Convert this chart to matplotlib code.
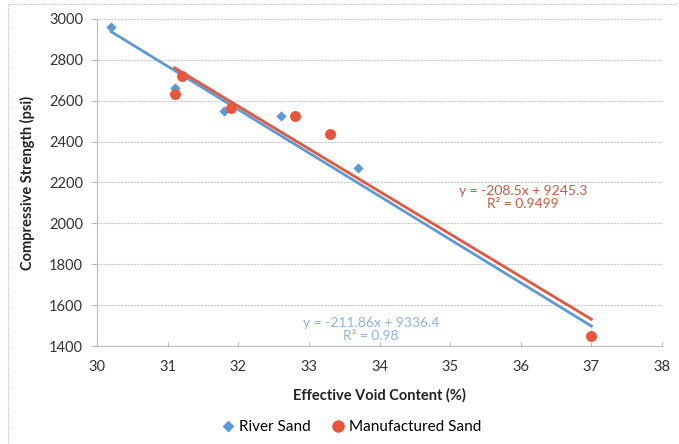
import matplotlib
matplotlib.use("Agg")
import matplotlib.pyplot as plt
from matplotlib.patches import Rectangle
from matplotlib.lines import Line2D
import numpy as np

plt.rcParams['font.family'] = ['Lato', 'DejaVu Sans']

river_x = [30.2, 31.1, 31.8, 32.6, 33.7, 37.0]
river_y = [2960, 2660, 2550, 2525, 2270, 1450]
manu_x = [31.1, 31.2, 31.9, 32.8, 33.3, 37.0]
manu_y = [2635, 2720, 2565, 2525, 2435, 1450]

river_fit = (-211.86, 9336.4, 0.98)
manu_fit = (-208.5, 9245.3, 0.9499)

x_ticks = [30, 31, 32, 33, 34, 35, 36, 37, 38]
y_ticks = [1400, 1600, 1800, 2000, 2200, 2400, 2600, 2800, 3000]

blue = '#5B9BD5'
red = '#E8553A'
blue_txt = '#8DB3E2'
red_txt = '#C65A3C'

fig = plt.figure(figsize=(6.79, 4.44), dpi=100)
# outer chart border
fig.add_artist(Rectangle((8/679, -0.05), 1.2, 1.05 - 4/444, transform=fig.transFigure,
                         fill=False, edgecolor='#BBBBBB', linewidth=0.8, linestyle=(0, (1, 1))))

ax = fig.add_axes([97/679, 1-346/444, (662-97)/679, (346-19)/444])
ax.set_xlim(30, 38)
ax.set_ylim(1400, 3000)
ax.set_xticks(x_ticks)
ax.set_yticks(y_ticks)

for s in ['top', 'right']:
    ax.spines[s].set_visible(False)
for s in ['left', 'bottom']:
    ax.spines[s].set_color('#BBBBBB')
    ax.spines[s].set_linestyle((0, (2, 1)))
    ax.spines[s].set_linewidth(0.8)

ax.yaxis.grid(True, color='#C8C8C8', linestyle=(0, (2, 1)), linewidth=0.8)
ax.set_axisbelow(True)
ax.tick_params(axis='both', colors='#BBBBBB', labelcolor='#333333', labelsize=10.5, length=3)
ax.tick_params(axis='x', direction='in', pad=10)
ax.tick_params(axis='y', length=4, pad=6)

# trendlines
for xs, fit, col in [(river_x, river_fit, blue), (manu_x, manu_fit, red)]:
    xl = np.array([min(xs), max(xs)])
    ax.plot(xl, fit[0]*xl + fit[1], color=col, linewidth=2, zorder=2)

ax.scatter(river_x, river_y, marker='D', s=28, color=blue, zorder=3, linewidths=0)
ax.scatter(manu_x, manu_y, marker='o', s=62, color=red, zorder=4, linewidths=0)

ax.text(36.03, 2127, f"y = {manu_fit[0]}x + {manu_fit[1]}\nR² = {manu_fit[2]}",
        color=red_txt, fontsize=10, ha='center', va='center', linespacing=1.1)
ax.text(33.88, 1483, f"y = {river_fit[0]}x + {river_fit[1]}\nR² = {river_fit[2]}",
        color=blue_txt, fontsize=10, ha='center', va='center', linespacing=1.1)

ax.set_xlabel('Effective Void Content (%)', fontsize=10.5, fontweight='bold', color='#222222', labelpad=10)
ax.set_ylabel('Compressive Strength (psi)', fontsize=10.5, fontweight='bold', color='#222222', labelpad=10)

handles = [Line2D([], [], marker='D', color=blue, linestyle='none', markersize=5),
           Line2D([], [], marker='o', color=red, linestyle='none', markersize=8)]
fig.legend(handles, ['River Sand', 'Manufactured Sand'], loc='center', bbox_to_anchor=(350/679, 1-427/444),
           ncol=2, frameon=False, fontsize=11, handletextpad=0.1, columnspacing=1.2, handlelength=1.2)

fig.savefig('out.png', dpi=100)
